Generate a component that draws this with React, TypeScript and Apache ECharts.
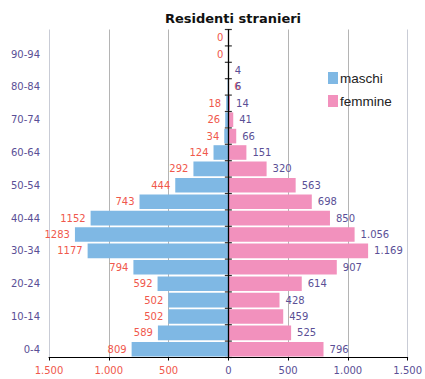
import React, { useEffect, useRef } from "react";
import * as echarts from "echarts";

const categories = ["0-4","5-9","10-14","15-19","20-24","25-29","30-34","35-39","40-44","45-49","50-54","55-59","60-64","65-69","70-74","75-79","80-84","85-89","90-94","95-99"];
const maschi = [809,589,502,502,592,794,1177,1283,1152,743,444,292,124,34,26,18,6,3,0,0];
const femmine = [796,525,459,428,614,907,1169,1056,850,698,563,320,151,66,41,14,6,4,0,0];

const RED = "#f0584c";
const PURPLE = "#5a4f96";
const FONT = "DejaVu Sans";

const fmtThousands = (v: number) => {
  const s = String(Math.abs(Math.round(v)));
  return s.replace(/\B(?=(\d{3})+(?!\d))/g, ".");
};

export default function App() {
  const ref = useRef<HTMLDivElement>(null);
  useEffect(() => {
    document.body.style.margin = "0";
    const chart = echarts.init(ref.current!, null, { renderer: "svg" });
    const maleData = maschi.map((v, i) => {
      const item: any = { value: -v };
      if (i === 17) item.label = { show: false };
      if (i === 16) item.label = { position: "right", distance: 6 };
      return item;
    });
    const femaleData = femmine.map((v) => {
      const item: any = { value: v };
      if (v === 0) item.label = { show: false };
      return item;
    });
    const boundaries = categories.map((_, i) => [0, i]).concat([[0, categories.length]]);
    chart.setOption({
      animation: false,
      backgroundColor: "#ffffff",
      title: {
        text: "Residenti stranieri",
        left: 228,
        textAlign: "center",
        top: 7,
        textStyle: { fontFamily: FONT, fontWeight: "bold", fontSize: 13, color: "#111" },
      },
      legend: {
        orient: "vertical",
        left: 328,
        top: 71,
        padding: 0,
        itemWidth: 10,
        itemHeight: 12,
        itemGap: 9,
        icon: "rect",
        textStyle: { fontFamily: "Liberation Sans", fontSize: 13.5, color: "#222", padding: [0, 0, 0, -3] },
        data: ["maschi", "femmine"],
      },
      grid: { left: 49, right: 13, top: 29.5, bottom: 21.5, containLabel: false },
      xAxis: {
        type: "value",
        min: -1500,
        max: 1500,
        interval: 500,
        axisLine: { show: true, onZero: false, lineStyle: { color: "#000", width: 1 } },
        axisTick: { show: true, length: 3, lineStyle: { color: "#000" } },
        splitLine: {
          show: true,
          lineStyle: { color: ["#c9ccd6", "#b4b4b4", "#b4b4b4", "#000000", "#b4b4b4", "#b4b4b4", "#c9ccd6"], width: 1 },
        },
        axisLabel: {
          margin: 8,
          fontFamily: FONT,
          fontSize: 10,
          formatter: (v: number) => (v < 0 ? "{r|" + fmtThousands(v) + "}" : "{p|" + fmtThousands(v) + "}"),
          rich: {
            r: { color: RED, fontFamily: FONT, fontSize: 10 },
            p: { color: PURPLE, fontFamily: FONT, fontSize: 10 },
          },
        },
      },
      yAxis: [
        {
          type: "category",
          data: categories,
          axisLine: { show: false },
          axisTick: { show: false },
          axisLabel: { interval: 1, color: PURPLE, fontFamily: FONT, fontSize: 10, margin: 9 },
        },
        {
          type: "value",
          min: 0,
          max: categories.length,
          show: false,
        },
      ],
      series: [
        {
          name: "maschi",
          type: "bar",
          data: maleData,
          barGap: "-100%",
          barCategoryGap: "11%",
          itemStyle: { color: "#7fb8e4" },
          label: {
            show: true,
            position: "left",
            distance: 5,
            color: RED,
            fontFamily: FONT,
            fontSize: 10,
            formatter: (p: any) => String(Math.abs(p.value)),
          },
          z: 2,
        },
        {
          name: "femmine",
          type: "bar",
          data: femaleData,
          barGap: "-100%",
          barCategoryGap: "11%",
          itemStyle: { color: "#f291bd" },
          label: {
            show: true,
            position: "right",
            distance: 6,
            color: PURPLE,
            fontFamily: FONT,
            fontSize: 10,
            formatter: (p: any) => fmtThousands(p.value),
          },
          markLine: {
            silent: true,
            symbol: "none",
            label: { show: false },
            lineStyle: { color: "#000", width: 1.3, type: "solid" },
            data: [{ xAxis: 0 }],
          },
          z: 2,
        },
        {
          type: "scatter",
          yAxisIndex: 1,
          data: boundaries,
          symbol: "rect",
          symbolSize: [7, 1.2],
          itemStyle: { color: "#000" },
          silent: true,
          z: 5,
        },
      ],
    });
    return () => chart.dispose();
  }, []);
  return <div ref={ref} style={{ width: 425, height: 379 }} />;
}
